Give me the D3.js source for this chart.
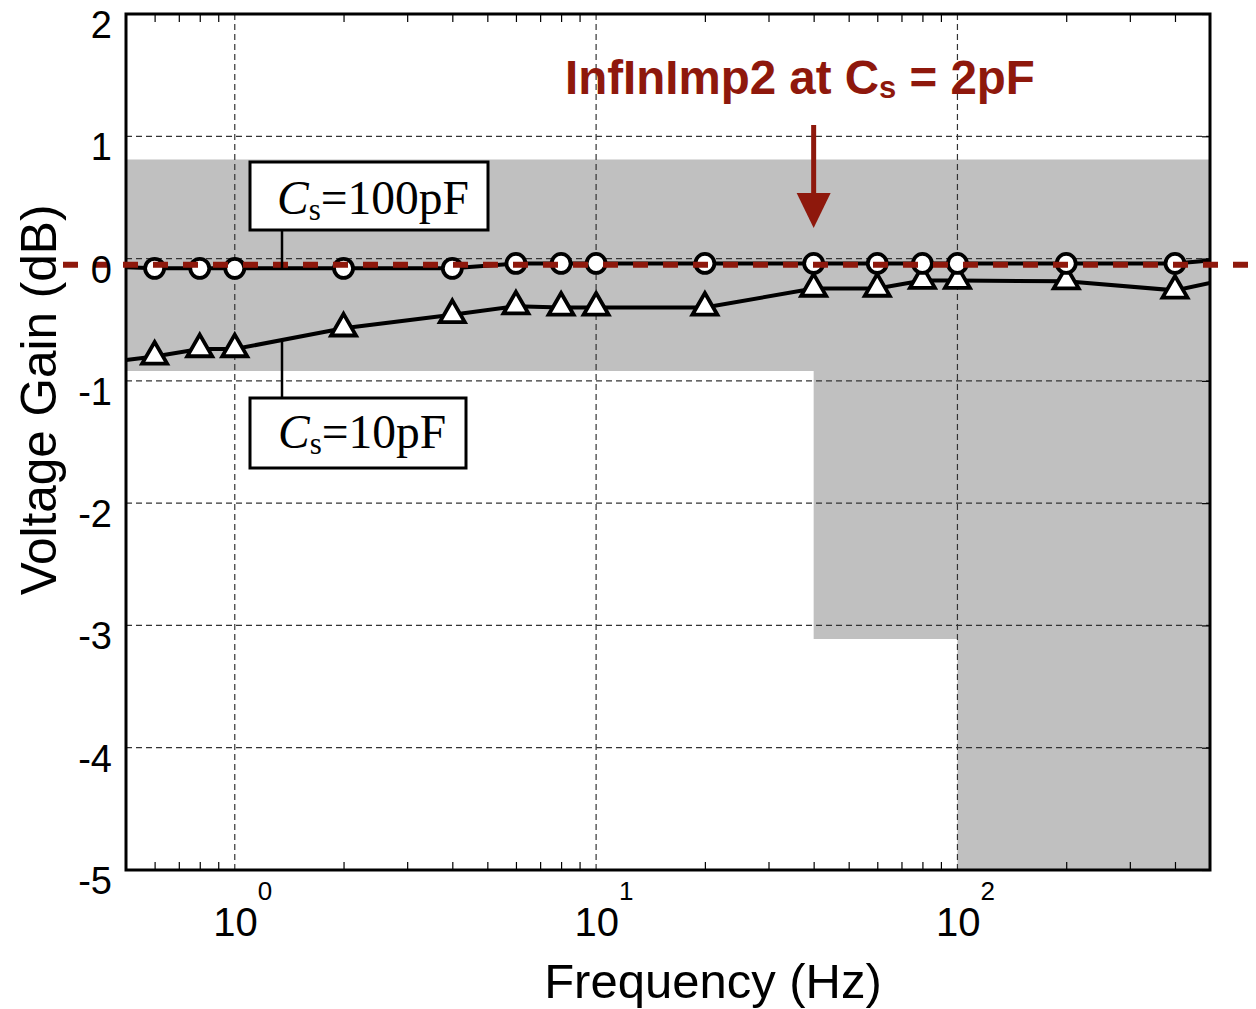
<!DOCTYPE html>
<html>
<head>
<meta charset="utf-8">
<script src="https://cdn.jsdelivr.net/npm/d3@7"></script>
<style>
  body { margin: 0; background: #fff; }
  svg { display: block; }
</style>
</head>
<body>
<svg id="chart" width="1256" height="1009"></svg>
<script>
// Measurement frequencies (Hz). First and last entries are the plot edges (line only, no marker).
const freqs = [0.5, 0.6, 0.8, 1, 2, 4, 6, 8, 10, 20, 40, 60, 80, 100, 200, 400, 500];
// Voltage gain (dB) for each source capacitance
const gainCs100pF = [-0.07, -0.08, -0.08, -0.08, -0.08, -0.08, -0.04, -0.04, -0.04, -0.04, -0.04, -0.04, -0.04, -0.04, -0.04, -0.04, -0.015];
const gainCs10pF  = [-0.83, -0.80, -0.74, -0.74, -0.57, -0.46, -0.39, -0.40, -0.40, -0.40, -0.245, -0.245, -0.18, -0.18, -0.185, -0.26, -0.20];

// Specification band (shaded): lower limit steps down at 40 Hz and 100 Hz
const bandFreqs = [0.5, 40, 100, 500];
const bandLower = [-0.92, -3.11, -5, -5];
const bandUpper = 0.81;

// InfInImp2 at Cs = 2pF reference gain (dB)
const refGain = -0.05;

// Axis ticks
const yTicks = [2, 1, 0, -1, -2, -3, -4, -5];
const xMajor = [1, 10, 100];
const xExponents = ["0", "1", "2"];

const svg = d3.select("#chart");
const W = 1256, H = 1009;
const pL = 126, pR = 1210, pT = 14, pB = 870;

const x = d3.scaleLog().domain([0.5, 500]).range([pL, pR]);
const y = d3.scaleLinear().domain([2, -5]).range([pT, pB]);

const SANS = "'Liberation Sans', Arial, Helvetica, sans-serif";
const SERIF = "'Liberation Serif', 'Times New Roman', serif";
const RED = "#8e180c";

svg.append("defs").append("clipPath").attr("id", "plotClip")
  .append("rect").attr("x", pL).attr("y", pT).attr("width", pR - pL).attr("height", pB - pT);

const plot = svg.append("g").attr("clip-path", "url(#plotClip)");

// Shaded band
const bandData = bandFreqs.map((f, i) => ({ f, lo: bandLower[i] }));
plot.append("path")
  .datum(bandData)
  .attr("fill", "#c0c0c0")
  .attr("d", d3.area()
    .curve(d3.curveStepAfter)
    .x(d => x(d.f))
    .y0(d => y(d.lo))
    .y1(() => y(bandUpper)));

// Grid lines
const grid = plot.append("g").attr("stroke", "#333").attr("stroke-width", 1.2).attr("stroke-dasharray", "6,4");
grid.selectAll("line.gx").data(xMajor).join("line").attr("class", "gx")
  .attr("x1", d => x(d)).attr("x2", d => x(d)).attr("y1", pT).attr("y2", pB);
grid.selectAll("line.gy").data(yTicks.filter(v => v !== 2 && v !== -5)).join("line").attr("class", "gy")
  .attr("x1", pL).attr("x2", pR).attr("y1", d => y(d)).attr("y2", d => y(d));

// Series lines
const pts100 = freqs.map((f, i) => ({ f, g: gainCs100pF[i] }));
const pts10 = freqs.map((f, i) => ({ f, g: gainCs10pF[i] }));
const line = d3.line().x(d => x(d.f)).y(d => y(d.g));

plot.append("path").datum(pts10).attr("fill", "none").attr("stroke", "#000").attr("stroke-width", 4).attr("d", line);
plot.append("path").datum(pts100).attr("fill", "none").attr("stroke", "#000").attr("stroke-width", 4).attr("d", line);

// Markers
const inner = d => d.slice(1, -1);
plot.selectAll("path.tri").data(inner(pts10)).join("path")
  .attr("class", "tri")
  .attr("transform", d => `translate(${x(d.f)},${y(d.g)})`)
  .attr("d", d3.symbol(d3.symbolTriangle, 270)())
  .attr("fill", "#fff").attr("stroke", "#000").attr("stroke-width", 3.8).attr("stroke-linejoin", "miter");

plot.selectAll("circle.circ").data(inner(pts100)).join("circle")
  .attr("class", "circ")
  .attr("cx", d => x(d.f)).attr("cy", d => y(d.g)).attr("r", 9.5)
  .attr("fill", "#fff").attr("stroke", "#000").attr("stroke-width", 3.8);

// Axis ticks (inward)
const minor = x.ticks().filter(v => !xMajor.includes(v) && v > 0.5 && v < 500);
svg.append("g").attr("transform", `translate(0,${pB})`)
  .call(d3.axisBottom(x).tickValues(minor).tickSize(-8).tickFormat(""))
  .call(g => g.select(".domain").remove())
  .selectAll("line").attr("stroke", "#000").attr("stroke-width", 1.2);
svg.append("g").attr("transform", `translate(0,${pT})`)
  .call(d3.axisTop(x).tickValues(minor).tickSize(-8).tickFormat(""))
  .call(g => g.select(".domain").remove())
  .selectAll("line").attr("stroke", "#000").attr("stroke-width", 1.2);
svg.append("g").attr("transform", `translate(${pR},0)`)
  .call(d3.axisRight(y).tickValues(yTicks).tickSize(-8).tickFormat(""))
  .call(g => g.select(".domain").remove())
  .selectAll("line").attr("stroke", "#000").attr("stroke-width", 1.2);

// Frame
svg.append("rect").attr("x", pL).attr("y", pT).attr("width", pR - pL).attr("height", pB - pT)
  .attr("fill", "none").attr("stroke", "#000").attr("stroke-width", 3);

// Reference (red dashed) line, runs past the frame
svg.append("line")
  .attr("x1", 63).attr("x2", W).attr("y1", y(refGain)).attr("y2", y(refGain))
  .attr("stroke", RED).attr("stroke-width", 6).attr("stroke-dasharray", "15,15");

// Y tick labels
svg.append("g").selectAll("text").data(yTicks).join("text")
  .attr("x", 112).attr("y", d => y(d) + 24)
  .attr("text-anchor", "end")
  .attr("font-family", SANS).attr("font-size", 38)
  .text(d => d);

// X tick labels: 10^n
const xl = svg.append("g").selectAll("g").data(xMajor).join("g")
  .attr("transform", d => `translate(${x(d)},0)`);
xl.append("text").attr("x", 23).attr("y", 936).attr("text-anchor", "end")
  .attr("font-family", SANS).attr("font-size", 40).text("10");
xl.append("text").attr("x", 23).attr("y", 900).attr("text-anchor", "start")
  .attr("font-family", SANS).attr("font-size", 26).text((d, i) => xExponents[i]);

// Axis titles
svg.append("text").attr("transform", "translate(56,400) rotate(-90)")
  .attr("text-anchor", "middle").attr("font-family", SANS).attr("font-size", 49.5)
  .text("Voltage Gain (dB)");
svg.append("text").attr("x", 713).attr("y", 998)
  .attr("text-anchor", "middle").attr("font-family", SANS).attr("font-size", 49)
  .text("Frequency (Hz)");

// Title annotation
const title = svg.append("text").attr("x", 565).attr("y", 94)
  .attr("font-family", SANS).attr("font-size", 47.5).attr("font-weight", "bold").attr("fill", RED);
title.append("tspan").text("InfInImp2 at C");
title.append("tspan").attr("font-size", 31).attr("dy", 4).text("s");
title.append("tspan").attr("dy", -4).text(" = 2pF");

// Arrow pointing at the reference line
const arrowX = x(40);
svg.append("line").attr("x1", arrowX).attr("x2", arrowX).attr("y1", 125).attr("y2", 200)
  .attr("stroke", RED).attr("stroke-width", 5);
svg.append("path")
  .attr("d", `M${arrowX - 17},193 L${arrowX + 17},193 L${arrowX},228 Z`)
  .attr("fill", RED);

// Series labels with leader lines
function seriesLabel(bx, by, bw, bh, tx, ty, value, leaderX, leaderY1, leaderY2) {
  svg.append("line").attr("x1", leaderX).attr("x2", leaderX).attr("y1", leaderY1).attr("y2", leaderY2)
    .attr("stroke", "#000").attr("stroke-width", 2.5);
  svg.append("rect").attr("x", bx).attr("y", by).attr("width", bw).attr("height", bh)
    .attr("fill", "#fff").attr("stroke", "#000").attr("stroke-width", 3);
  const t = svg.append("text").attr("x", tx).attr("y", ty)
    .attr("font-family", SERIF).attr("font-size", 47.5);
  t.append("tspan").attr("font-style", "italic").text("C");
  t.append("tspan").attr("font-size", 31).attr("dy", 6).text("s");
  t.append("tspan").attr("dy", -6).text("=" + value);
}
seriesLabel(250, 162, 238, 68, 277, 214, "100pF", 282, 230, y(-0.08));
seriesLabel(250, 398, 216, 70, 278, 448, "10pF", 282, 340, 398);
</script>
</body>
</html>
